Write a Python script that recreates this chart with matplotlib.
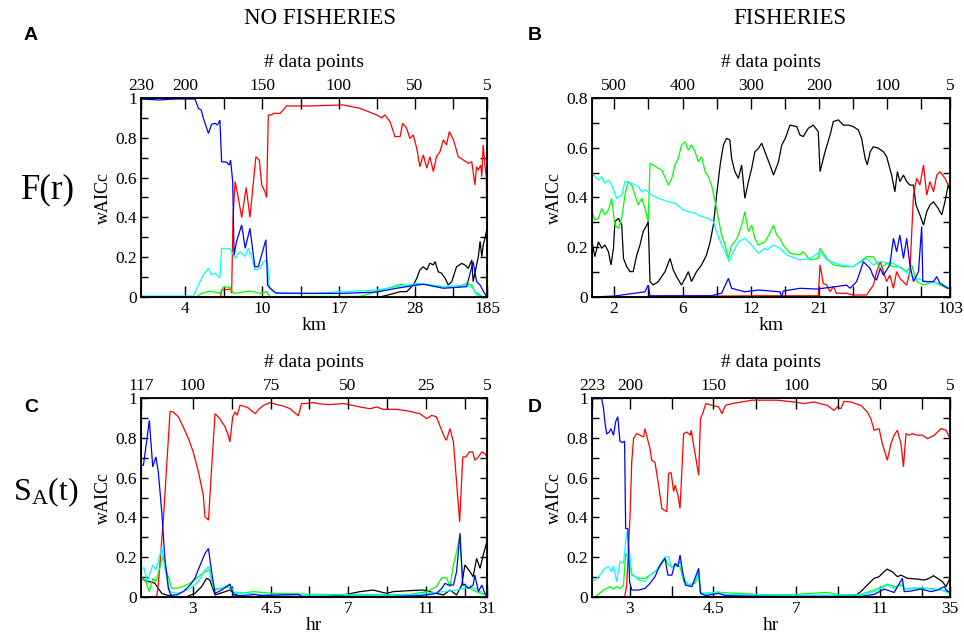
import matplotlib
matplotlib.use("Agg")
import matplotlib.pyplot as plt
from matplotlib.ticker import MultipleLocator, FixedLocator

# ---------------- data (x = window position along the axis, 0..100; y = wAICc) ----------------
A_red = [(0,0),(23.0,0),(23.3,0.035),(25.9,0.04),(26.2,0.02),(26.6,0.4),(27.2,0.58),(28.1,0.50),(29.1,0.40),(30.4,0.55),(31.5,0.40),(32.5,0.58),(33.2,0.705),(34.2,0.687),(34.9,0.563),(35.8,0.53),(36.3,0.50),(36.8,0.915),(37.8,0.915),(38.3,0.923),(40.2,0.923),(41.1,0.94),(42.1,0.96),(48.8,0.96),(58.5,0.965),(63.3,0.948),(68.1,0.915),(69.6,0.9),(70.5,0.915),(72.0,0.88),(73.4,0.806),(74.9,0.806),(75.6,0.873),(76.8,0.848),(77.7,0.797),(78.7,0.814),(79.7,0.747),(80.6,0.655),(81.6,0.714),(82.6,0.647),(83.5,0.705),(84.5,0.63),(85.4,0.705),(86.4,0.73),(87.4,0.79),(88.3,0.764),(89.1,0.831),(90.3,0.79),(91.7,0.705),(93.2,0.688),(94.6,0.672),(95.6,0.68),(96.5,0.563),(97.0,0.655),(97.5,0.638),(98.2,0.663),(98.5,0.605),(98.9,0.764),(99.4,0.663),(99.8,0.6),(100,0.3)]
A_blue = [(0,0.995),(5,0.99),(10,0.995),(15.6,0.995),(16.6,0.948),(17.4,0.94),(18.0,0.90),(19.5,0.822),(20.4,0.868),(21.4,0.873),(22.1,0.864),(22.8,0.889),(23.3,0.68),(24.8,0.677),(25.5,0.663),(25.9,0.688),(26.5,0.58),(26.9,0.21),(27.6,0.278),(29.1,0.362),(30.1,0.245),(31.5,0.345),(32.9,0.152),(33.9,0.152),(35.4,0.245),(36.1,0.288),(36.6,0.06),(37.3,0.044),(39,0.02),(48.8,0.018),(58.5,0.018),(68.1,0.025),(73.9,0.044),(79.7,0.06),(81.6,0.064),(87.4,0.044),(94.1,0.052),(96.0,0.177),(96.5,0.127),(97.0,0.077),(98.0,0.06),(99.0,0.027),(100,0.0)]
A_cyan = [(0,0.005),(15.1,0.005),(16.6,0.06),(18.0,0.111),(19.5,0.144),(20.4,0.111),(21.4,0.119),(22.8,0.097),(23.3,0.245),(24.8,0.241),(25.7,0.245),(26.2,0.228),(27.2,0.194),(28.6,0.228),(30.1,0.204),(31.0,0.245),(32.0,0.204),(32.9,0.137),(34.4,0.144),(35.4,0.178),(36.5,0.186),(37.1,0.052),(38.2,0.027),(40,0.018),(48.8,0.018),(68.1,0.035),(73.9,0.052),(79.7,0.069),(87.4,0.052),(94.1,0.06),(96.0,0.044),(97.0,0.01),(98.9,0.0),(100,0)]
A_green = [(0,0.0),(16.0,0.0),(17.5,0.018),(19.9,0.03),(22.8,0.018),(23.8,0.05),(25.7,0.05),(26.7,0.018),(28.6,0.023),(31.5,0.03),(34.4,0.018),(36.3,0.027),(37.3,0.0),(48.8,0.003),(63.3,0.003),(68.1,0.027),(72.9,0.052),(74.9,0.064),(77.7,0.052),(80.6,0.067),(83.5,0.06),(87.4,0.052),(91.2,0.047),(94.1,0.069),(95.6,0.06),(96.5,0.027),(98.9,0.0),(100,0)]
A_black = [(0,0),(69.0,0),(72.0,0.013),(74.9,0.027),(76.8,0.027),(78.7,0.06),(79.7,0.094),(80.6,0.136),(81.6,0.152),(82.6,0.136),(83.5,0.17),(84.5,0.161),(85.0,0.178),(85.9,0.127),(86.9,0.119),(87.9,0.094),(88.8,0.06),(89.8,0.077),(91.2,0.152),(92.7,0.169),(93.6,0.161),(94.6,0.144),(95.6,0.186),(96.0,0.077),(97.0,0.161),(97.5,0.203),(98.0,0.28),(98.5,0.203),(98.9,0.261),(99.4,0.295),(100,0.345)]

B_cyan = [(0,0.497),(1.8,0.470),(2.7,0.484),(3.6,0.457),(4.6,0.470),(5.5,0.450),(6.9,0.397),(8.3,0.410),(9.2,0.464),(11.1,0.457),(12.9,0.444),(13.9,0.423),(14.8,0.430),(15.7,0.423),(16.7,0.410),(18.5,0.397),(21.3,0.383),(23.2,0.377),(25.5,0.350),(26.9,0.343),(28.8,0.336),(30.6,0.323),(32.5,0.316),(33.9,0.303),(34.8,0.263),(36.2,0.209),(37.2,0.182),(38.3,0.142),(39.5,0.182),(40.9,0.222),(42.7,0.236),(44.6,0.209),(46.5,0.176),(48.3,0.196),(48.8,0.189),(50.7,0.209),(52.5,0.196),(54.4,0.169),(58.1,0.149),(60.9,0.155),(63.7,0.182),(65.6,0.149),(69.3,0.129),(73.0,0.122),(76.7,0.155),(78.6,0.129),(80.5,0.142),(84.2,0.135),(87.0,0.109),(88.8,0.088),(90.7,0.075),(93.5,0.062),(97.2,0.055),(99.5,0.035),(100,0.035)]
B_green = [(0,0.343),(0.8,0.310),(1.8,0.316),(2.7,0.356),(3.6,0.330),(4.6,0.350),(5.5,0.397),(6.4,0.289),(7.4,0.276),(8.3,0.316),(9.2,0.410),(10.1,0.464),(11.1,0.450),(12.0,0.410),(12.9,0.370),(13.9,0.397),(14.8,0.356),(15.7,0.303),(16.2,0.537),(17.1,0.531),(18.5,0.517),(19.5,0.511),(21.3,0.450),(22.3,0.477),(23.2,0.531),(24.1,0.557),(25.0,0.611),(26.0,0.624),(26.9,0.591),(27.8,0.611),(28.8,0.584),(29.7,0.544),(30.6,0.564),(31.6,0.504),(32.5,0.484),(33.4,0.450),(34.4,0.383),(35.3,0.316),(36.2,0.249),(37.2,0.209),(38.1,0.155),(39.0,0.209),(39.9,0.222),(40.9,0.249),(41.8,0.289),(42.7,0.343),(43.7,0.263),(44.6,0.289),(45.5,0.236),(46.5,0.209),(48.3,0.222),(49.7,0.256),(50.7,0.289),(51.6,0.249),(52.5,0.236),(53.4,0.209),(55.3,0.176),(58.1,0.169),(59.0,0.182),(60.9,0.149),(63.2,0.155),(63.7,0.196),(65.6,0.155),(67.4,0.129),(70.2,0.122),(73.0,0.122),(74.9,0.142),(76.7,0.162),(78.6,0.162),(80.5,0.115),(82.3,0.135),(84.2,0.122),(86.0,0.122),(87.9,0.102),(89.3,0.129),(90.7,0.062),(92.6,0.048),(95.3,0.062),(99.1,0.035),(100,0.035)]
B_black = [(0,0.222),(0.8,0.162),(1.8,0.222),(2.7,0.196),(3.6,0.209),(4.6,0.182),(5.3,0.129),(6.0,0.196),(6.4,0.303),(7.4,0.316),(8.3,0.289),(8.8,0.155),(9.7,0.122),(10.6,0.102),(11.5,0.102),(12.5,0.169),(13.4,0.209),(14.3,0.263),(15.3,0.289),(15.7,0.303),(16.2,0.062),(17.1,0.048),(18.5,0.062),(20.4,0.102),(21.8,0.155),(22.7,0.109),(23.6,0.082),(25.0,0.048),(26.0,0.075),(26.9,0.102),(27.8,0.062),(29.2,0.102),(30.6,0.129),(32.0,0.169),(33.0,0.222),(33.9,0.289),(34.8,0.410),(35.8,0.531),(36.7,0.611),(37.6,0.638),(38.5,0.631),(39.0,0.557),(39.9,0.504),(40.9,0.477),(41.8,0.531),(42.7,0.397),(43.7,0.464),(44.6,0.517),(45.5,0.584),(46.5,0.598),(47.4,0.618),(48.3,0.584),(49.7,0.531),(50.7,0.490),(52.1,0.544),(53.0,0.611),(54.0,0.638),(55.3,0.691),(57.2,0.685),(58.1,0.651),(59.0,0.645),(60.4,0.678),(61.8,0.691),(63.2,0.665),(63.7,0.504),(65.1,0.584),(66.5,0.651),(67.4,0.705),(68.8,0.712),(70.2,0.691),(71.6,0.691),(73.0,0.685),(74.4,0.671),(75.3,0.638),(76.3,0.557),(76.9,0.531),(77.7,0.584),(78.6,0.604),(80.0,0.598),(81.4,0.584),(82.3,0.564),(83.7,0.490),(84.6,0.423),(85.3,0.504),(86.0,0.464),(87.0,0.490),(87.9,0.464),(88.8,0.450),(89.8,0.450),(90.5,0.370),(91.6,0.330),(92.6,0.289),(93.5,0.343),(94.4,0.370),(95.4,0.383),(96.7,0.356),(97.7,0.330),(98.6,0.383),(99.5,0.450),(100,0.43)]
B_red = [(0,0.0),(46.9,0.005),(63.2,0.005),(63.7,0.129),(64.6,0.055),(65.6,0.048),(66.5,0.021),(67.4,0.042),(68.3,0.015),(71.1,0.015),(73.0,0.008),(76.7,0.008),(78.6,0.048),(79.5,0.102),(80.5,0.142),(81.4,0.102),(82.3,0.062),(83.2,0.088),(84.2,0.035),(85.1,0.102),(86.0,0.075),(87.9,0.048),(88.8,0.102),(89.8,0.410),(90.7,0.477),(91.6,0.450),(92.6,0.531),(93.5,0.410),(94.4,0.464),(95.4,0.423),(96.3,0.490),(97.2,0.504),(98.6,0.477),(99.5,0.450),(100,0.46)]
B_blue = [(0,0.0),(6.4,0.004),(8.3,0.008),(14.8,0.021),(15.7,0.048),(16.2,0.005),(22.3,0.005),(33.4,0.005),(34.8,0.011),(36.2,0.015),(38.1,0.075),(39.0,0.035),(42.7,0.021),(46.5,0.028),(52.5,0.021),(53.0,0.0),(53.4,0.024),(58.1,0.035),(62.8,0.032),(68.3,0.042),(71.1,0.048),(72.1,0.035),(73.9,0.062),(74.9,0.102),(75.8,0.142),(76.7,0.129),(77.7,0.115),(78.6,0.082),(79.5,0.068),(80.5,0.115),(81.4,0.088),(83.2,0.129),(84.2,0.236),(85.1,0.182),(86.0,0.249),(87.0,0.155),(87.9,0.236),(88.8,0.129),(89.8,0.062),(91.2,0.102),(92.1,0.284),(92.4,0.062),(93.5,0.062),(95.4,0.062),(96.3,0.082),(97.2,0.055),(99.5,0.035),(100,0.035)]

C_red = [(0,0),(4.5,0),(5.0,0.06),(6.5,0.40),(8.4,0.933),(9.3,0.930),(10.8,0.905),(12.2,0.855),(13.7,0.796),(15.1,0.729),(16.6,0.629),(18.0,0.512),(18.5,0.403),(19.5,0.386),(20.4,0.645),(21.4,0.921),(22.8,0.896),(24.3,0.855),(25.2,0.813),(25.7,0.779),(26.5,0.905),(27.2,0.93),(27.8,0.913),(28.6,0.963),(29.6,0.96),(31.0,0.95),(33.0,0.921),(34.0,0.943),(35.4,0.963),(37.3,0.977),(39.2,0.967),(41.1,0.96),(43.1,0.946),(45.5,0.910),(46.4,0.972),(47.9,0.972),(49.8,0.977),(51.7,0.970),(54.6,0.967),(58.5,0.972),(63.3,0.955),(66.2,0.946),(68.1,0.955),(70.0,0.943),(73.9,0.943),(77.7,0.933),(80.6,0.921),(82.6,0.896),(84.0,0.913),(85.4,0.905),(86.9,0.838),(87.9,0.796),(88.3,0.788),(89.3,0.846),(90.3,0.779),(91.2,0.579),(92.1,0.378),(93.0,0.704),(93.9,0.704),(94.9,0.729),(95.9,0.729),(96.5,0.687),(97.5,0.704),(98.5,0.729),(99.4,0.721),(100,0.704)]
C_blue = [(0,0.662),(0.7,0.662),(1.6,0.779),(2.4,0.888),(3.4,0.654),(4.3,0.704),(5.0,0.629),(6.0,0.428),(6.9,0.194),(7.9,0.043),(8.6,0.01),(10.3,0.01),(12.2,0.027),(14.2,0.060),(15.6,0.094),(17.1,0.161),(18.5,0.219),(19.5,0.244),(20.4,0.127),(21.4,0.018),(23.3,0.035),(25.7,0.065),(26.7,0.01),(28.6,0.007),(31.5,0.01),(32.9,0.013),(34.4,0.007),(45.5,0.013),(46.4,0.003),(72.9,0.003),(80.6,0.007),(85.4,0.018),(86.9,0.043),(87.9,0.069),(88.8,0.060),(90.3,0.060),(91.2,0.127),(92.2,0.321),(93.0,0.060),(93.6,0.064),(94.6,0.043),(96.0,0.060),(96.5,0.110),(97.5,0.027),(98.5,0.060),(99.4,0.018),(100,0.0)]
C_cyan = [(0,0.147),(0.9,0.144),(1.8,0.077),(3.4,0.161),(4.3,0.137),(5.0,0.177),(6.0,0.252),(6.9,0.144),(8.4,0.027),(10.3,0.018),(12.2,0.027),(14.2,0.043),(16.6,0.077),(18.5,0.136),(19.5,0.152),(20.4,0.085),(21.4,0.035),(25.7,0.060),(27.2,0.018),(28.6,0.023),(31.0,0.018),(33.4,0.013),(38.2,0.01),(77.7,0.01),(87.4,0.027),(91.2,0.035),(93.2,0.043),(95.1,0.052),(97.0,0.040),(98.9,0.018),(100,0.01)]
C_green = [(0,0.100),(1.2,0.085),(2.4,0.027),(3.4,0.094),(4.3,0.077),(5.5,0.152),(6.5,0.211),(7.4,0.127),(8.9,0.043),(11.3,0.047),(14.2,0.069),(16.6,0.102),(18.5,0.127),(19.9,0.136),(20.9,0.043),(22.8,0.040),(25.2,0.052),(26.7,0.027),(28.6,0.018),(32.5,0.027),(38.2,0.018),(51.7,0.013),(77.7,0.013),(82.6,0.027),(85.4,0.052),(86.9,0.097),(88.3,0.097),(89.3,0.052),(90.3,0.160),(91.2,0.227),(92.1,0.303),(93.0,0.060),(94.1,0.052),(96.0,0.035),(98.0,0.018),(100,0.01)]
C_black = [(0,0.097),(1.6,0.077),(2.6,0.077),(4.0,0.069),(5.0,0.043),(6.0,0.018),(7.4,0.01),(10.3,0.0),(13.2,0.002),(15.6,0.018),(17.5,0.052),(19.0,0.094),(19.9,0.085),(21.4,0.010),(22.8,0.018),(25.7,0.035),(27.6,0.010),(29.6,0.0),(51.7,0.0),(58.5,0.01),(63.3,0.027),(67.1,0.035),(71.0,0.018),(72.9,0.027),(77.7,0.032),(81.6,0.035),(85.4,0.018),(87.4,0.01),(89.3,0.035),(91.2,0.01),(92.7,0.060),(93.6,0.161),(95.1,0.127),(96.0,0.102),(97.0,0.194),(98.0,0.144),(98.9,0.211),(100,0.279)]

D_blue = [(0,0.997),(2.7,0.997),(3.2,0.95),(3.6,0.880),(4.1,0.819),(4.8,0.829),(5.3,0.846),(6.0,0.813),(6.6,0.880),(7.2,0.906),(7.8,0.783),(8.5,0.776),(9.1,0.783),(9.4,0.344),(10.0,0.344),(10.5,0.077),(11.1,0.035),(13.0,0.035),(14.8,0.043),(16.2,0.069),(17.6,0.102),(19.0,0.161),(20.4,0.194),(21.2,0.110),(22.3,0.110),(23.2,0.169),(24.0,0.152),(24.6,0.211),(25.3,0.127),(26.1,0.060),(27.9,0.052),(29.8,0.144),(30.3,0.018),(31.7,0.007),(35.4,0.018),(37.3,0.007),(49.9,0.003),(75.1,0.003),(78.8,0.013),(81.6,0.040),(84.4,0.023),(86.7,0.094),(87.2,0.027),(89.1,0.030),(91.9,0.040),(94.7,0.027),(96.5,0.035),(98.4,0.052),(99.3,0.027),(100,0.027)]
D_red = [(0,0),(9.1,0),(9.7,0.060),(10.6,0.395),(11.1,0.679),(11.6,0.796),(12.5,0.821),(13.4,0.813),(14.4,0.804),(14.8,0.846),(15.6,0.788),(16.2,0.746),(16.7,0.687),(17.6,0.676),(18.6,0.562),(19.5,0.445),(20.9,0.428),(21.4,0.622),(22.1,0.625),(22.8,0.530),(23.2,0.562),(24.0,0.512),(24.6,0.445),(25.6,0.821),(26.5,0.829),(27.5,0.813),(27.7,0.838),(28.4,0.763),(29.8,0.612),(30.3,0.896),(30.9,0.921),(31.8,0.972),(33.5,0.963),(35.4,0.955),(36.3,0.921),(37.3,0.963),(39.1,0.972),(44.7,0.989),(49.9,0.989),(51.7,0.989),(56.4,0.980),(59.2,0.972),(62.0,0.980),(65.7,0.963),(67.6,0.938),(68.5,0.955),(69.5,0.946),(70.4,0.983),(72.3,0.980),(75.1,0.963),(76.9,0.930),(77.9,0.896),(78.8,0.838),(80.2,0.846),(81.1,0.770),(82.5,0.687),(83.5,0.770),(84.4,0.813),(85.3,0.838),(86.3,0.770),(87.0,0.654),(87.7,0.821),(88.6,0.813),(89.5,0.821),(90.9,0.813),(92.3,0.813),(93.7,0.796),(95.6,0.813),(97.5,0.846),(98.9,0.838),(100,0.796)]
D_cyan = [(0.4,0.08),(1.8,0.10),(3.6,0.144),(4.6,0.152),(5.5,0.127),(6.0,0.157),(6.9,0.077),(7.8,0.177),(8.8,0.169),(9.7,0.328),(10.2,0.278),(11.1,0.119),(13.0,0.085),(14.8,0.077),(16.2,0.110),(17.6,0.127),(19.0,0.161),(20.4,0.202),(21.4,0.202),(22.3,0.144),(23.2,0.161),(24.6,0.177),(25.6,0.094),(27.0,0.060),(28.8,0.077),(29.8,0.127),(30.3,0.027),(31.7,0.013),(35.4,0.027),(37.3,0.013),(49.9,0.01),(75.1,0.01),(78.8,0.027),(82.5,0.060),(84.4,0.043),(86.7,0.069),(87.2,0.043),(91.9,0.047),(94.7,0.040),(97.5,0.035),(100,0.018)]
D_green = [(0.8,0.0),(3.2,0.035),(4.1,0.043),(5.0,0.052),(6.0,0.040),(6.9,0.052),(7.8,0.043),(8.8,0.060),(9.4,0.219),(10.0,0.202),(11.1,0.110),(13.0,0.094),(14.8,0.094),(16.2,0.110),(17.6,0.127),(19.0,0.152),(20.4,0.194),(21.4,0.161),(22.3,0.152),(23.2,0.161),(24.6,0.152),(25.6,0.077),(27.0,0.060),(28.8,0.069),(29.8,0.110),(30.3,0.018),(35.4,0.023),(49.9,0.01),(56.4,0.013),(65.7,0.023),(69.5,0.01),(75.1,0.013),(78.8,0.035),(82.5,0.064),(84.4,0.052),(86.7,0.060),(87.2,0.040),(91.9,0.043),(94.7,0.043),(97.5,0.035),(100,0.027)]
D_black = [(0,0),(73.2,0.003),(75.1,0.027),(76.9,0.060),(78.8,0.094),(80.2,0.102),(81.1,0.119),(82.4,0.140),(83.9,0.127),(85.3,0.102),(86.3,0.110),(88.1,0.094),(90.9,0.090),(92.8,0.085),(94.2,0.094),(95.4,0.107),(96.5,0.094),(97.9,0.077),(98.9,0.052),(100,0.094)]

# tick positions / labels
A_top_pos = [0, 12.7, 35.0, 57.2, 79.2, 100]; A_top_lab = ['230', '200', '150', '100', '50', '5']
A_bot_pos = [12.7, 35.0, 57.2, 79.2, 100];    A_bot_lab = ['4', '10', '17', '28', '185']
A_minor = [23.9, 46.1, 68.2, 90.2]
B_top_pos = [6.1, 25.4, 44.4, 63.4, 82.4, 100]; B_top_lab = ['500', '400', '300', '200', '100', '5']
B_bot_pos = [6.1, 25.4, 44.4, 63.4, 82.4, 100]; B_bot_lab = ['2', '6', '12', '21', '37', '103']
B_minor = [15.6, 34.9, 53.9, 72.9, 91.9]
C_top_pos = [0, 15.0, 37.6, 59.8, 82.4, 100]; C_top_lab = ['117', '100', '75', '50', '25', '5']
C_bot_pos = [15.0, 37.6, 59.8, 82.4, 100];    C_bot_lab = ['3', '4.5', '7', '11', '31']
C_minor = [26.3, 48.6, 71.1, 93.6]
D_top_pos = [0, 10.6, 33.9, 57.1, 80.4, 100]; D_top_lab = ['223', '200', '150', '100', '50', '5']
D_bot_pos = [10.6, 33.9, 57.1, 80.4, 100];    D_bot_lab = ['3', '4.5', '7', '11', '35']
D_minor = [22.4, 45.7, 68.6, 92.2]

SERIF = 'Liberation Serif'
plt.rcParams['font.family'] = SERIF
plt.rcParams['mathtext.fontset'] = 'custom'
plt.rcParams['mathtext.rm'] = SERIF
plt.rcParams['mathtext.it'] = SERIF

fig = plt.figure(figsize=(9.64, 6.41), dpi=100)

def ylab_fmt(v):
    return '0' if abs(v) < 1e-9 else ('1' if abs(v - 1) < 1e-9 else f'{v:.1f}')

def panel(rect, series, ymax, top_pos, top_lab, bot_pos, bot_lab, minor, xlabel):
    ax = fig.add_axes(rect)
    for pts, col in series:
        xs = [p[0] for p in pts]
        ys = [p[1] for p in pts]
        ax.plot(xs, ys, color=col, lw=0.9, solid_joinstyle='miter')
    ax.set_xlim(0, 100)
    ax.set_ylim(0, ymax)
    ax.xaxis.set_major_locator(FixedLocator(bot_pos))
    ax.set_xticklabels(bot_lab)
    ax.xaxis.set_minor_locator(FixedLocator(minor))
    ax.yaxis.set_minor_locator(MultipleLocator(0.1))
    yt = [round(0.2 * i, 1) for i in range(int(round(ymax / 0.2)) + 1)]
    ax.set_yticks(yt)
    ax.set_yticklabels([ylab_fmt(v) for v in yt])
    ax.tick_params(axis='x', which='both', direction='in', length=8, width=1.0,
                   labelsize=12.5, pad=3)
    ax.tick_params(axis='y', which='both', direction='in', length=5, width=1.0,
                   right=True, labelsize=12.5, pad=3)
    ax.set_xlabel(xlabel, fontsize=14, labelpad=0)
    ax.set_ylabel('wAICc', fontsize=13, labelpad=2)
    for s in ax.spines.values():
        s.set_linewidth(1.3)
    top = ax.twiny()
    top.set_xlim(0, 100)
    top.xaxis.set_major_locator(FixedLocator(top_pos))
    top.set_xticklabels(top_lab)
    top.xaxis.set_minor_locator(FixedLocator(minor))
    top.tick_params(axis='x', which='both', direction='in', length=8, width=1.0,
                    labelsize=12.5, pad=3)
    top.set_xlabel('# data points', fontsize=14, labelpad=8)
    return ax

W = 964.0; H = 641.0
def rect(l, r, t, b):
    return [l / W, 1 - b / H, (r - l) / W, (b - t) / H]

panel(rect(141, 487, 98, 297),
      [(A_black, 'black'), (A_red, '#ff0000'), (A_green, '#00ff00'), (A_cyan, '#00ffff'), (A_blue, '#0000ff')],
      1.0, A_top_pos, A_top_lab, A_bot_pos, A_bot_lab, A_minor, 'km')
panel(rect(592, 950, 98, 297),
      [(B_black, 'black'), (B_red, '#ff0000'), (B_green, '#00ff00'), (B_cyan, '#00ffff'), (B_blue, '#0000ff')],
      0.8, B_top_pos, B_top_lab, B_bot_pos, B_bot_lab, B_minor, 'km')
panel(rect(141, 487, 398, 597),
      [(C_black, 'black'), (C_red, '#ff0000'), (C_green, '#00ff00'), (C_cyan, '#00ffff'), (C_blue, '#0000ff')],
      1.0, C_top_pos, C_top_lab, C_bot_pos, C_bot_lab, C_minor, 'hr')
panel(rect(592, 950, 398, 597),
      [(D_black, 'black'), (D_red, '#ff0000'), (D_green, '#00ff00'), (D_cyan, '#00ffff'), (D_blue, '#0000ff')],
      1.0, D_top_pos, D_top_lab, D_bot_pos, D_bot_lab, D_minor, 'hr')

# panel letters
for (lx, ly, letter) in [(24, 35, 'A'), (528, 35, 'B'), (24, 408, 'C'), (528, 408, 'D')]:
    fig.text(lx / W, 1 - ly / H, letter, fontsize=14, fontweight='bold',
             family='Liberation Sans', ha='left', va='center')

fig.text(320 / W, 1 - 19 / H, 'NO FISHERIES', fontsize=16.5, ha='center', va='center')
fig.text(790 / W, 1 - 19 / H, 'FISHERIES', fontsize=16.5, ha='center', va='center')
fig.text(48 / W, 1 - 190 / H, 'F(r)', fontsize=25, ha='center', va='center')
fig.text(46 / W, 1 - 492 / H, r'S$_\mathrm{A}$(t)', fontsize=23, ha='center', va='center')

fig.savefig('out.png', dpi=100)
